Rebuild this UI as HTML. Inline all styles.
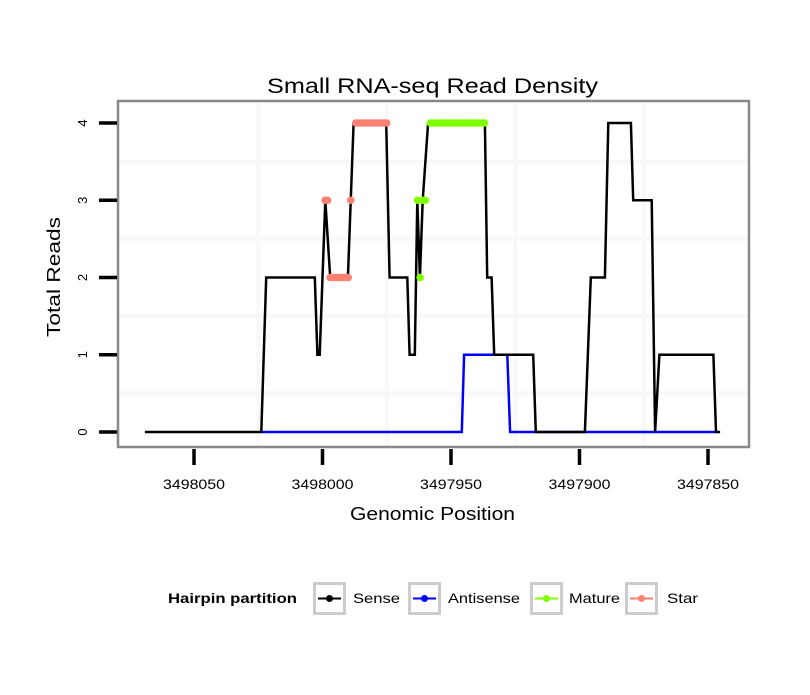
<!DOCTYPE html>
<html><head><meta charset="utf-8"><style>
body{margin:0;background:#fff;}
text{font-family:"Liberation Sans",sans-serif;}
</style></head><body>
<svg id="chart" width="810" height="690" xmlns="http://www.w3.org/2000/svg">
<rect width="810" height="690" fill="#fff"/>
<text x="267" y="93" font-size="21" textLength="331" lengthAdjust="spacingAndGlyphs">Small RNA-seq Read Density</text>
<g id="grid"></g>
<g id="series"></g>
<rect x="118" y="101" width="631" height="346" fill="none" stroke="#888" stroke-width="2.5"/>
<g id="axes"></g>
<text x="350" y="520" font-size="18" textLength="165" lengthAdjust="spacingAndGlyphs">Genomic Position</text>
<text transform="translate(60,337) rotate(-90)" font-size="18" textLength="120" lengthAdjust="spacingAndGlyphs">Total Reads</text>
<g>
<text x="168" y="603" font-size="14" font-weight="bold" textLength="129" lengthAdjust="spacingAndGlyphs">Hairpin partition</text>
<g><rect x="314.5" y="583.5" width="30" height="30" fill="#fff" stroke="#ccc" stroke-width="3"/><line x1="318" y1="598.5" x2="341" y2="598.5" stroke="#000" stroke-width="2"/><circle cx="329.5" cy="598.5" r="3.5" fill="#000"/><text x="353" y="603" font-size="14" textLength="47" lengthAdjust="spacingAndGlyphs">Sense</text></g>
<g><rect x="409.5" y="583.5" width="30" height="30" fill="#fff" stroke="#ccc" stroke-width="3"/><line x1="413" y1="598.5" x2="436" y2="598.5" stroke="#00f" stroke-width="2"/><circle cx="424.5" cy="598.5" r="3.5" fill="#00f"/><text x="448" y="603" font-size="14" textLength="72" lengthAdjust="spacingAndGlyphs">Antisense</text></g>
<g><rect x="531.5" y="583.5" width="30" height="30" fill="#fff" stroke="#ccc" stroke-width="3"/><line x1="535" y1="598.5" x2="558" y2="598.5" stroke="#7fff00" stroke-width="2"/><circle cx="546.5" cy="598.5" r="3.5" fill="#7fff00"/><text x="569" y="603" font-size="14" textLength="51" lengthAdjust="spacingAndGlyphs">Mature</text></g>
<g><rect x="626.5" y="583.5" width="30" height="30" fill="#fff" stroke="#ccc" stroke-width="3"/><line x1="630" y1="598.5" x2="653" y2="598.5" stroke="#fa8072" stroke-width="2"/><circle cx="641.5" cy="598.5" r="3.5" fill="#fa8072"/><text x="667" y="603" font-size="14" textLength="31" lengthAdjust="spacingAndGlyphs">Star</text></g>
</g>
</svg>
<script>
const senseX=[3498069.1,3498023.8,3498021.9,3498003.0,3498002.0,3498001.1,3497998.9,3497997.0,3497990.1,3497987.9,3497975.2,3497973.9,3497967.0,3497966.1,3497964.1,3497963.1,3497962.1,3497961.0,3497958.9,3497936.8,3497935.9,3497934.2,3497933.2,3497918.0,3497917.0,3497897.9,3497895.6,3497890.1,3497888.8,3497880.0,3497879.1,3497871.9,3497870.6,3497868.9,3497847.9,3497846.9,3497845.3];
const senseY=[0,0,2,2,1,1,3,2,2,4,4,2,2,1,1,3,2,3,4,4,2,2,1,1,0,0,2,2,4,4,3,3,0,1,1,0,0];
const antiX=[3498023.8,3497945.8,3497944.9,3497928.1,3497927.0,3497846.9];
const antiY=[0,0,1,1,0,0];
const starX=[3497999,3497998,3497997,3497996,3497995,3497994,3497993,3497992,3497991,3497990,3497989,3497987,3497986,3497985,3497984,3497983,3497982,3497981,3497980,3497979,3497978,3497977,3497976,3497975];
const starY=[3,3,2,2,2,2,2,2,2,2,3,4,4,4,4,4,4,4,4,4,4,4,4,4];
const matureX=[3497963,3497962,3497961,3497960,3497958,3497957,3497956,3497955,3497954,3497953,3497952,3497951,3497950,3497949,3497948,3497947,3497946,3497945,3497944,3497943,3497942,3497941,3497940,3497939,3497938,3497937];
const matureY=[3,2,3,3,4,4,4,4,4,4,4,4,4,4,4,4,4,4,4,4,4,4,4,4,4,4];
const xTicks=[3498050,3498000,3497950,3497900,3497850];
const yTicks=[0,1,2,3,4];
const xMinor=[3498025,3497975,3497925,3497875];
const yMinor=[0.5,1.5,2.5,3.5];

const NS="http://www.w3.org/2000/svg";
function xs(p){return 194+(3498050-p)*2.57;}
function ys(v){return 432-v*77.25;}
function mk(tag,attrs,parent){const e=document.createElementNS(NS,tag);for(const k in attrs)e.setAttribute(k,attrs[k]);parent.appendChild(e);return e;}
const grid=document.getElementById('grid'),series=document.getElementById('series'),axes=document.getElementById('axes');
xMinor.forEach(p=>{const l=mk('line',{x1:xs(p),x2:xs(p),y1:102,y2:446,stroke:'#f8f8f8','stroke-width':4},grid);

});
yMinor.forEach(v=>{const l=mk('line',{x1:119,x2:748,y1:ys(v),y2:ys(v),stroke:'#f8f8f8','stroke-width':4},grid);

});
function line(X,Y,color,name){const d=X.map((p,i)=>(i?'L':'M')+xs(p).toFixed(1)+','+ys(Y[i]).toFixed(1)).join(' ');
const e=mk('path',{d:d,fill:'none',stroke:color,'stroke-width':2.5,'stroke-linejoin':'miter'},series);

}
line(antiX,antiY,'#00f','antisense-line');
line(senseX,senseY,'#000','sense-line');
function pts(X,Y,color,name){X.forEach((p,i)=>{const c=mk('circle',{cx:xs(p),cy:ys(Y[i]),r:3.8,fill:color},series);

});}
pts(starX,starY,'#fa8072','star-point');
pts(matureX,matureY,'#7fff00','mature-point');
yTicks.forEach(v=>{const t=mk('line',{x1:99,x2:117,y1:ys(v),y2:ys(v),stroke:'#000','stroke-width':3.5},axes);


const tx=mk('text',{transform:'translate('+87+','+ys(v)+') rotate(-90)','font-size':13,'text-anchor':'middle'},axes);tx.textContent=v;

});
xTicks.forEach(p=>{const t=mk('line',{x1:xs(p),x2:xs(p),y1:449,y2:465,stroke:'#000','stroke-width':3.5},axes);


const tx=mk('text',{x:xs(p)-31,y:489,'font-size':14,textLength:62,lengthAdjust:'spacingAndGlyphs'},axes);tx.textContent=p;

});
</script>
</body></html>
